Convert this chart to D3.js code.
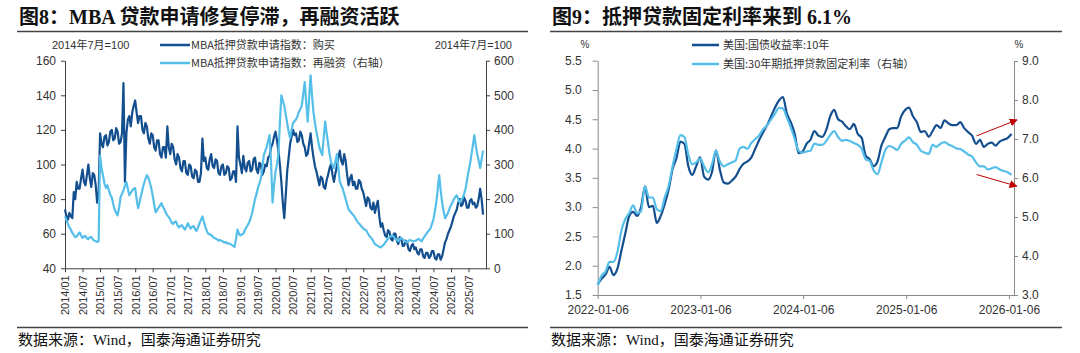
<!DOCTYPE html>
<html><head><meta charset="utf-8">
<script src="https://cdn.jsdelivr.net/npm/d3@7"></script>
<style>body{margin:0;background:#fff}svg{display:block}</style>
</head><body>
<svg id="c" width="1080" height="353"></svg>
<script>
// ---------- Chart 8 data (half-monthly, from 2014/01) ----------
const mbaTicks = ["2014/01","2014/07","2015/01","2015/07","2016/01","2016/07","2017/01","2017/07",
  "2018/01","2018/07","2019/01","2019/07","2020/01","2020/07","2021/01","2021/07","2022/01","2022/07",
  "2023/01","2023/07","2024/01","2024/07","2025/01","2025/07"];
const purchaseIdx = [
  74,70, 68,72, 70,69, 84,80, 90,86, 86,92, 97,90, 88,94, 100,92, 87,95, 94,88, 78,84,
  118,112, 110,116, 117,111, 113,119, 120,114, 115,121, 119,112, 113,118, 147,90, 118,126, 128,122, 130,134,
  137,130, 124,128, 128,120, 118,124, 122,115, 112,118, 117,110, 108,114, 114,106, 104,110, 110,104, 122,110,
  106,112, 110,103, 100,106, 104,98, 96,102, 102,95, 94,100, 99,93, 92,97, 96,90, 90,95, 115,102,
  104,98, 97,103, 106,99, 98,103, 102,95, 94,99, 100,94, 95,99, 98,91, 92,96, 96,90, 122,104,
  100,95, 105,98, 96,101, 102,96, 97,103, 104,97, 95,101, 100,94, 96,100, 99,104, 105,110, 112,116,
  119,114, 108,100, 90,78, 69,82, 96,104, 112,116, 120,117, 118,113, 114,119, 117,112, 110,105, 106,112,
  118,110, 104,99, 96,92, 88,93, 92,87, 86,91, 94,98, 100,94, 90,95, 99,104, 108,102, 100,106,
  102,94, 88,92, 94,88, 90,86, 86,91, 90,86, 84,80, 76,81, 80,75, 74,78, 72,76, 79,70,
  64,66, 62,59, 58,62, 61,57, 56,60, 60,56, 54,58, 57,53, 53,56, 55,51, 50,53, 54,51,
  52,49, 48,51, 51,47, 46,49, 49,46, 47,50, 50,46, 45,48, 48,45, 47,51, 55,57, 60,62,
  64,67, 70,72, 74,78, 80,76, 77,81, 79,75, 75,79, 80,77, 78,75, 76,80, 86,80, 71];
const refiIdx = [
  150,140, 128,118, 112,102, 97,90, 92,98, 104,95, 88,92, 94,86, 84,90, 90,84, 80,78, 76,78,
  325,290, 268,245, 232,240, 225,212, 205,185, 170,160, 153,175, 205,215, 225,238, 249,230, 211,218, 225,230,
  232,200, 174,190, 210,228, 245,258, 269,262, 249,232, 210,185, 162,168, 175,182, 188,178, 170,160, 153,148,
  140,132, 128,134, 135,124, 118,122, 125,117, 112,120, 130,122, 115,120, 122,113, 108,118, 130,140, 150,135,
  120,108, 100,98, 96,91, 88,86, 84,80, 82,79, 78,74, 76,72, 72,70, 68,65, 62,85, 112,100,
  95,98, 100,110, 118,125, 133,145, 160,180, 200,215, 232,245, 260,290, 327,340, 350,370, 385,300, 190,240,
  278,300, 330,420, 500,485, 470,445, 420,395, 376,400, 420,425, 430,440, 452,460, 470,505, 538,480, 424,490,
  558,500, 450,420, 395,372, 350,338, 327,380, 424,390, 360,330, 307,298, 290,310, 330,290, 250,240, 230,215,
  200,185, 170,165, 160,155, 150,142, 135,130, 125,120, 115,112, 110,102, 95,90, 85,78, 70,67, 65,62,
  60,64, 68,74, 80,86, 90,93, 95,90, 85,82, 78,84, 88,84, 80,77, 75,79, 82,80, 78,79,
  80,83, 85,81, 78,86, 92,98, 105,110, 115,128, 140,165, 190,230, 269,225, 190,165, 145,152, 160,172,
  182,190, 200,206, 211,200, 190,197, 203,215, 230,255, 278,300, 327,355, 385,355, 330,310, 290,315, 340];
const leftTicks8 = [40,60,80,100,120,140,160];
const rightTicks8 = [0,100,200,300,400,500,600];

// ---------- Chart 9 data (bi-weekly, from 2022-01-06) ----------
const rateStart = "2022-01-06";
const treasury10y = [
  1.68,1.78,1.85,1.98,1.84,1.95,2.25,2.55,2.85,2.92,2.85,3.0,3.35,3.0,3.02,2.73,2.85,3.05,3.3,3.65,
  3.84,4.12,4.08,3.7,3.55,3.7,3.85,3.52,3.47,3.6,3.97,3.64,3.42,3.4,3.45,3.52,3.65,3.74,3.78,3.85,
  4.0,4.15,4.28,4.4,4.55,4.7,4.82,4.88,4.6,4.45,4.25,3.92,3.95,4.08,4.15,4.3,4.22,4.2,4.32,4.55,
  4.66,4.5,4.46,4.38,4.33,4.42,4.25,4.18,3.88,3.82,3.7,3.78,4.05,4.2,4.33,4.35,4.35,4.55,4.66,4.7,
  4.55,4.45,4.28,4.3,4.2,4.3,4.4,4.35,4.48,4.43,4.4,4.4,4.45,4.35,4.28,4.22,4.08,4.15,4.03,4.08,
  4.1,4.05,4.12,4.15,4.18,4.25];
const mortgage30y = [
  3.25,3.5,3.6,3.85,3.85,4.1,4.65,4.95,5.1,5.3,5.1,5.15,5.8,5.5,5.5,5.2,5.15,5.5,5.8,6.3,
  6.75,7.1,7.05,6.6,6.35,6.4,6.5,6.3,6.15,6.35,6.7,6.42,6.3,6.35,6.4,6.45,6.75,6.8,6.75,6.9,
  7.0,7.1,7.25,7.35,7.5,7.65,7.8,7.78,7.55,7.3,7.0,6.7,6.65,6.68,6.7,6.88,6.85,6.85,6.95,7.1,
  7.2,7.05,6.95,6.98,6.95,6.9,6.85,6.75,6.48,6.44,6.2,6.1,6.4,6.72,6.82,6.78,6.72,6.88,6.96,7.04,
  6.92,6.85,6.7,6.65,6.62,6.85,6.8,6.88,6.92,6.86,6.82,6.76,6.74,6.68,6.6,6.55,6.4,6.3,6.3,6.22,
  6.25,6.28,6.22,6.18,6.15,6.08];
const rateXTicks = ["2022-01-06","2023-01-06","2024-01-06","2025-01-06","2026-01-06"];
const leftTicks9 = [1.5,2.0,2.5,3.0,3.5,4.0,4.5,5.0,5.5];
const rightTicks9 = [3.0,4.0,5.0,6.0,7.0,8.0,9.0];
const trendArrows = [
  {from:["2025-09-13",7.08], to:["2026-02-04",7.49]},
  {from:["2025-09-13",6.09], to:["2026-02-03",5.79]}];

// ---------- styles ----------
const DARK = "#134f8e", LIGHT = "#55bfe9", RED = "#c00000";
const SANS = "'Liberation Sans', Arial, 'Noto Sans CJK SC', sans-serif";
const CJK = "'Noto Sans CJK SC', sans-serif";
const SERIF = "'Liberation Serif', 'Noto Sans CJK SC', serif";

const svg = d3.select("#c");
const defs = svg.append("defs");
defs.append("marker").attr("id","arr").attr("viewBox","0 0 10 10").attr("refX",9).attr("refY",5)
  .attr("markerWidth",8).attr("markerHeight",8).attr("markerUnits","userSpaceOnUse").attr("orient","auto")
  .append("path").attr("d","M0,0L10,5L0,10Z").attr("fill",RED);

function frame(x0, x1, title) {
  svg.append("text").attr("x", x0 + 2).attr("y", 24).text(title)
    .attr("font-family", SERIF).attr("font-weight", "bold").attr("font-size", 20).attr("fill", "#111");
  svg.append("line").attr("x1", x0).attr("x2", x1).attr("y1", 31.5).attr("y2", 31.5)
    .attr("stroke", "#444").attr("stroke-width", 1.5);
  svg.append("line").attr("x1", x0).attr("x2", x1).attr("y1", 327.5).attr("y2", 327.5)
    .attr("stroke", "#444").attr("stroke-width", 1.5);
  svg.append("text").attr("x", x0 + 1).attr("y", 345).text("数据来源：Wind，国泰海通证券研究")
    .attr("font-family", SERIF).attr("font-size", 15).attr("fill", "#111");
}
frame(17, 528, "图8：MBA 贷款申请修复停滞，再融资活跃");
frame(550, 1062, "图9：抵押贷款固定利率来到 6.1%");

function styleAxis(g, color, fs) {
  g.selectAll("path").attr("stroke", color);
  g.selectAll("line").attr("stroke", color);
  g.selectAll("text").attr("font-family", SANS).attr("font-size", fs).attr("fill", "#333");
}

// ================= Chart 8 =================
{
  const x = d3.scaleLinear().domain([0, 144]).range([65, 486]);
  const yL = d3.scaleLinear().domain([40, 160]).range([268.3, 60.7]);
  const yR = d3.scaleLinear().domain([0, 600]).range([268.3, 60.7]);
  const ac = "#404040";

  const gl = svg.append("g").attr("transform", "translate(65,0)")
    .call(d3.axisLeft(yL).tickValues(leftTicks8).tickSize(4).tickSizeOuter(0).tickPadding(5));
  styleAxis(gl, ac, 12);
  const gr = svg.append("g").attr("transform", "translate(486,0)")
    .call(d3.axisRight(yR).tickValues(rightTicks8).tickSize(4).tickSizeOuter(0).tickPadding(4));
  styleAxis(gr, ac, 12);
  const gx = svg.append("g").attr("transform", "translate(0,268.3)")
    .call(d3.axisBottom(x).tickValues(mbaTicks.map((d, i) => i * 6)).tickFormat((d, i) => mbaTicks[i])
      .tickSize(4).tickSizeOuter(0));
  styleAxis(gx, ac, 11);
  gx.selectAll("text").attr("transform", "rotate(-90)").attr("text-anchor", "end")
    .attr("x", -7).attr("y", 0).attr("dy", "0.35em");

  // data are half-monthly: point i sits at month i/2
  const lineP = d3.line().x((d, i) => x(i / 2)).y(d => yL(d));
  const lineR = d3.line().x((d, i) => x(i / 2)).y(d => yR(d));
  svg.append("path").datum(purchaseIdx).attr("d", lineP).attr("fill", "none")
    .attr("stroke", DARK).attr("stroke-width", 2.2).attr("stroke-linejoin", "round");
  svg.append("path").datum(refiIdx).attr("d", lineR).attr("fill", "none")
    .attr("stroke", LIGHT).attr("stroke-width", 2.2).attr("stroke-linejoin", "round");

  svg.append("text").attr("x", 52).attr("y", 49).text("2014年7月=100")
    .attr("font-family", SANS).attr("font-size", 11).attr("fill", "#333");
  svg.append("text").attr("x", 512).attr("y", 49).attr("text-anchor", "end").text("2014年7月=100")
    .attr("font-family", SANS).attr("font-size", 11).attr("fill", "#333");

  const leg = [["MBA抵押贷款申请指数：购买", DARK, 45], ["MBA抵押贷款申请指数：再融资（右轴）", LIGHT, 63]];
  leg.forEach(([t, c, yy]) => {
    svg.append("line").attr("x1", 160).attr("x2", 190).attr("y1", yy).attr("y2", yy)
      .attr("stroke", c).attr("stroke-width", 2.5);
    svg.append("text").attr("x", 191).attr("y", yy + 4).text(t)
      .attr("font-family", CJK).attr("font-size", 11).attr("fill", "#333");
  });
}

// ================= Chart 9 =================
{
  const parse = d3.utcParse("%Y-%m-%d");
  const t0 = parse(rateStart);
  const dates = treasury10y.map((d, i) => d3.utcDay.offset(t0, 14 * i));
  const x = d3.scaleUtc().domain([t0, parse("2026-01-24")]).range([597.7, 1014]);
  const yL = d3.scaleLinear().domain([1.5, 5.5]).range([295, 60.7]);
  const yR = d3.scaleLinear().domain([3, 9]).range([295, 61]);
  const ac = "#888";

  const gl = svg.append("g").attr("transform", "translate(597.7,0)")
    .call(d3.axisLeft(yL).tickValues(leftTicks9).tickFormat(d3.format(".1f")).tickSize(5).tickSizeOuter(0).tickPadding(11));
  styleAxis(gl, ac, 12);
  const gr = svg.append("g").attr("transform", "translate(1014,0)")
    .call(d3.axisRight(yR).tickValues(rightTicks9).tickFormat(d3.format(".1f")).tickSize(4).tickSizeOuter(0).tickPadding(4));
  styleAxis(gr, ac, 12);
  const gx = svg.append("g").attr("transform", "translate(0,295)")
    .call(d3.axisBottom(x).tickValues(rateXTicks.map(parse)).tickFormat(d3.utcFormat("%Y-%m-%d"))
      .tickSize(4).tickSizeOuter(0).tickPadding(6));
  styleAxis(gx, ac, 12);

  const l10 = d3.line().x((d, i) => x(dates[i])).y(d => yL(d)).curve(d3.curveMonotoneX);
  const l30 = d3.line().x((d, i) => x(dates[i])).y(d => yR(d)).curve(d3.curveMonotoneX);
  svg.append("path").datum(treasury10y).attr("d", l10).attr("fill", "none")
    .attr("stroke", DARK).attr("stroke-width", 2.2).attr("stroke-linejoin", "round");
  svg.append("path").datum(mortgage30y).attr("d", l30).attr("fill", "none")
    .attr("stroke", LIGHT).attr("stroke-width", 2.2).attr("stroke-linejoin", "round");

  trendArrows.forEach(a => {
    svg.append("line")
      .attr("x1", x(parse(a.from[0]))).attr("y1", yR(a.from[1]))
      .attr("x2", x(parse(a.to[0]))).attr("y2", yR(a.to[1]))
      .attr("stroke", RED).attr("stroke-width", 1).attr("marker-end", "url(#arr)");
  });

  svg.append("text").attr("x", 585).attr("y", 48).attr("text-anchor", "middle").text("%")
    .attr("font-family", SANS).attr("font-size", 10).attr("fill", "#333");
  svg.append("text").attr("x", 1019).attr("y", 48).attr("text-anchor", "middle").text("%")
    .attr("font-family", SANS).attr("font-size", 10).attr("fill", "#333");

  const leg = [["美国:国债收益率:10年", DARK, 45], ["美国:30年期抵押贷款固定利率（右轴）", LIGHT, 64]];
  leg.forEach(([t, c, yy]) => {
    svg.append("line").attr("x1", 692).attr("x2", 719).attr("y1", yy).attr("y2", yy)
      .attr("stroke", c).attr("stroke-width", 2.5);
    svg.append("text").attr("x", 723).attr("y", yy + 4).text(t)
      .attr("font-family", CJK).attr("font-size", 11).attr("fill", "#333");
  });
}
</script>
</body></html>
